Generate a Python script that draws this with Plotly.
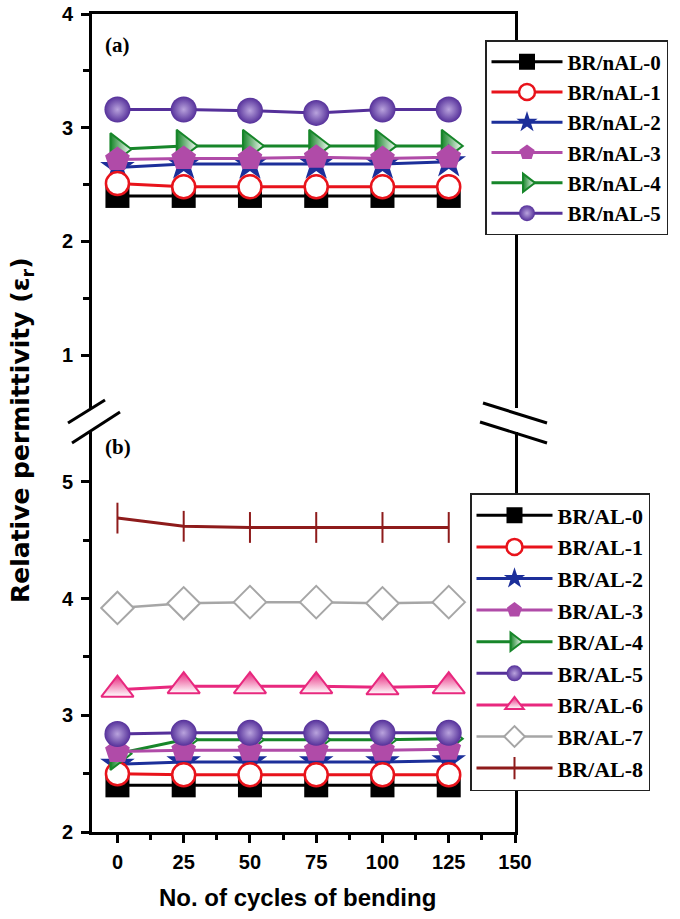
import plotly.graph_objects as go

W, H = 680, 919

cycles = [0, 25, 50, 75, 100, 125]

# Panel (a)
nal_names = ["BR/nAL-0", "BR/nAL-1", "BR/nAL-2", "BR/nAL-3", "BR/nAL-4", "BR/nAL-5"]
nal_0 = [2.40, 2.40, 2.40, 2.40, 2.40, 2.40]
nal_1 = [2.51, 2.48, 2.48, 2.48, 2.48, 2.48]
nal_2 = [2.65, 2.68, 2.68, 2.68, 2.68, 2.70]
nal_3 = [2.72, 2.73, 2.73, 2.74, 2.73, 2.74]
nal_4 = [2.81, 2.84, 2.84, 2.84, 2.84, 2.84]
nal_5 = [3.16, 3.16, 3.15, 3.13, 3.16, 3.16]

# Panel (b)
al_names = ["BR/AL-0", "BR/AL-1", "BR/AL-2", "BR/AL-3", "BR/AL-4",
            "BR/AL-5", "BR/AL-6", "BR/AL-7", "BR/AL-8"]
al_0 = [2.40, 2.40, 2.40, 2.40, 2.40, 2.40]
al_1 = [2.50, 2.49, 2.49, 2.49, 2.49, 2.49]
al_2 = [2.58, 2.60, 2.60, 2.60, 2.60, 2.61]
al_3 = [2.69, 2.70, 2.70, 2.70, 2.70, 2.71]
al_4 = [2.67, 2.79, 2.79, 2.79, 2.79, 2.80]
al_5 = [2.84, 2.85, 2.85, 2.85, 2.85, 2.85]
al_6 = [3.22, 3.25, 3.25, 3.25, 3.24, 3.25]
al_7 = [3.92, 3.96, 3.97, 3.97, 3.96, 3.97]
al_8 = [4.69, 4.62, 4.61, 4.61, 4.61, 4.61]

x_ticks = [0, 25, 50, 75, 100, 125, 150]

BLACK = "#000000"
RED = "#e8131b"
BLUE = "#1c2f9a"
MAGENTA = "#b04ba8"
GREEN = "#17862a"
PURPLE = "#55309a"
PINK = "#e8287e"
GRAY = "#a6a6a6"
BROWN = "#8e1b1b"

styles = [
    dict(color=BLACK, lw=3, marker=dict(symbol="square", size=24, color=BLACK)),
    dict(color=RED, lw=3, marker=dict(symbol="circle", size=23, color="white",
                                      line=dict(color=RED, width=2.5))),
    dict(color=BLUE, lw=3, marker=dict(symbol="star", size=26, color=BLUE)),
    dict(color=MAGENTA, lw=3, marker=dict(symbol="pentagon", size=26, color=MAGENTA)),
    dict(color=GREEN, lw=3, marker=dict(symbol="triangle-right", size=28, color=GREEN,
                                        gradient=dict(type="horizontal", color="white"),
                                        line=dict(color=GREEN, width=2))),
    dict(color=PURPLE, lw=3, marker=dict(symbol="circle", size=26, color=PURPLE,
                                         gradient=dict(type="radial", color="#b9a3dd"))),
    dict(color=PINK, lw=3, marker=dict(symbol="triangle-up", size=28, color=PINK,
                                       gradient=dict(type="vertical", color="white"),
                                       line=dict(color=PINK, width=2))),
    dict(color=GRAY, lw=2.5, marker=dict(symbol="diamond", size=25, color="white",
                                         line=dict(color=GRAY, width=2))),
    dict(color=BROWN, lw=3, marker=dict(symbol="line-ns", size=22, color=BROWN,
                                        line=dict(color=BROWN, width=2))),
]

fig = go.Figure()

nal_series = [nal_0, nal_1, nal_2, nal_3, nal_4, nal_5]
al_series = [al_0, al_1, al_2, al_3, al_4, al_5, al_6, al_7, al_8]

# drawing order (legend order kept via legendrank)
for i in [4, 2, 0, 1, 3, 5]:
    s = styles[i]
    fig.add_trace(go.Scatter(
        x=cycles, y=nal_series[i], name=nal_names[i], mode="lines+markers",
        line=dict(color=s["color"], width=s["lw"]), marker=s["marker"],
        xaxis="x2", yaxis="y2", legend="legend", legendrank=i + 1))

for i in [0, 2, 1, 4, 3, 5, 6, 7, 8]:
    s = styles[i]
    fig.add_trace(go.Scatter(
        x=cycles, y=al_series[i], name=al_names[i], mode="lines+markers",
        line=dict(color=s["color"], width=s["lw"]), marker=s["marker"],
        xaxis="x", yaxis="y", legend="legend2", legendrank=i + 1))

X0, X1 = 92 / W, 515 / W
YT0, YT1 = 1 - 408 / H, 1 - 14 / H
YB0, YB1 = 1 - 832 / H, 1 - 432 / H

tickfont = dict(family="Liberation Sans, Arial, sans-serif",
                size=20, color="black", weight="bold")
axcommon = dict(showgrid=False, zeroline=False, showline=True, linewidth=3,
                linecolor="black", ticks="outside", tickwidth=2.5, tickcolor="black",
                tickfont=tickfont)

fig.update_layout(
    width=W, height=H,
    margin=dict(l=0, r=0, t=0, b=0, autoexpand=False),
    paper_bgcolor="white", plot_bgcolor="white",
    xaxis=dict(domain=[X0, X1], range=[-9.6, 150], anchor="y",
               tickmode="array", tickvals=x_ticks, ticklen=8, ticklabelstandoff=2,
               minor=dict(dtick=12.5, tick0=0, ticks="outside", ticklen=5,
                          tickwidth=2.5, tickcolor="black"),
               **axcommon),
    yaxis=dict(domain=[YB0, YB1], range=[2, 5.428], anchor="x", mirror=True,
               dtick=1, tick0=0, ticklen=8, ticklabelstandoff=4,
               minor=dict(dtick=0.5, tick0=0, ticks="outside", ticklen=6,
                          tickwidth=2.5, tickcolor="black"),
               **axcommon),
    xaxis2=dict(domain=[X0, X1], range=[-9.6, 150], anchor="y2", side="top",
                showgrid=False, zeroline=False, showline=True, linewidth=3,
                linecolor="black", ticks="", showticklabels=False),
    yaxis2=dict(domain=[YT0, YT1], range=[0.535, 4], anchor="x2", mirror=True,
                dtick=1, tick0=0, ticklen=8, ticklabelstandoff=4,
                minor=dict(dtick=0.5, tick0=0, ticks="outside", ticklen=6,
                           tickwidth=2.5, tickcolor="black"),
                **axcommon),
    legend=dict(x=485 / W, y=1 - 40 / H, xanchor="left", yanchor="top",
                bgcolor="white", bordercolor="#222222", borderwidth=1.5,
                font=dict(family="Liberation Serif, Times New Roman, serif",
                          size=21, color="black", weight="bold"),
                itemwidth=71, itemsizing="trace"),
    legend2=dict(x=470 / W, y=1 - 493 / H, xanchor="left", yanchor="top",
                 bgcolor="white", bordercolor="#222222", borderwidth=1.5,
                 font=dict(family="Liberation Serif, Times New Roman, serif",
                           size=22, color="black", weight="bold"),
                 itemwidth=76, itemsizing="trace"),
    showlegend=True,
)

serif_bold = dict(family="Liberation Serif, Times New Roman, serif", size=21,
                  color="black", weight="bold")
fig.add_annotation(text="(a)", x=103 / W, y=1 - 45 / H, xref="paper", yref="paper",
                   xanchor="left", yanchor="middle", showarrow=False, font=serif_bold)
fig.add_annotation(text="(b)", x=103 / W, y=1 - 447 / H, xref="paper", yref="paper",
                   xanchor="left", yanchor="middle", showarrow=False, font=serif_bold)
fig.add_annotation(text="Relative permittivity (ε<sub>r</sub>)", textangle=-90,
                   x=22 / W, y=1 - 430 / H, xref="paper", yref="paper",
                   xanchor="center", yanchor="middle", showarrow=False,
                   font=dict(family="DejaVu Sans, sans-serif", size=25,
                             color="black", weight="bold"))
fig.add_annotation(text="No. of cycles of bending",
                   x=297 / W, y=1 - 897 / H, xref="paper", yref="paper",
                   xanchor="center", yanchor="middle", showarrow=False,
                   font=dict(family="Liberation Sans, Arial, sans-serif", size=24,
                             color="black", weight="bold"))

# axis break marks
breaks = [((68, 423), (105, 400)), ((72, 443), (120, 412)),
          ((483, 403), (547, 423)), ((480, 422), (547, 443))]
for (xa, ya), (xb, yb) in breaks:
    fig.add_shape(type="line", xref="paper", yref="paper",
                  x0=xa / W, y0=1 - ya / H, x1=xb / W, y1=1 - yb / H,
                  line=dict(color="black", width=3))

fig.write_html("out.html")
